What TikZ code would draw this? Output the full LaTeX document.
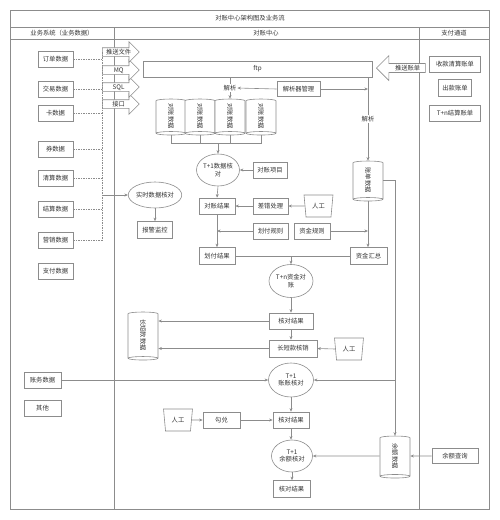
\documentclass[tikz,border=0pt]{standalone}
\usepackage{fontspec}
\setmainfont{Noto Sans CJK SC}
\usetikzlibrary{shapes.geometric, shapes.arrows, arrows.meta}

\definecolor{edgegray}{HTML}{8C8C8C}
\definecolor{textgray}{HTML}{333333}

\begin{document}
\begin{tikzpicture}[x=1pt, y=-1pt,
	every node/.style={font=\fontsize{6.3}{7.6}\selectfont, text=textgray},
	line/.style={draw=edgegray, line width=0.6pt},
	arr/.style={line, -{Stealth[length=3.6pt, width=3pt]}},
	box/.style={draw=edgegray, fill=white, line width=0.6pt, minimum height=16, inner sep=1pt},
	oval/.style={ellipse, draw=edgegray, fill=white, line width=0.6pt, inner sep=0pt, align=center},
	db/.style={cylinder, rotate=-90, draw=edgegray, fill=white, line width=0.6pt, minimum width=30, aspect=0.6, inner sep=0pt},
	manual/.style={trapezium, shape border rotate=180, trapezium left angle=80, trapezium right angle=80, trapezium stretches=true, draw=edgegray, fill=white, line width=0.6pt, minimum width=29, minimum height=22, inner sep=0pt},
	feed/.style={single arrow, draw=edgegray, fill=white, line width=0.6pt, single arrow head extend=6pt, inner xsep=1pt, inner ysep=0.6pt, text height=5.6pt, text depth=1.2pt, minimum height=37, anchor=tail},
	lbl/.style={fill=white, inner sep=0.8pt}
]
	\useasboundingbox (0,0) rectangle (500,520);

	% Frame and lanes
	\draw[line] (10,10) rectangle (489,509);
	\draw[line] (10,27) -- (489,27);
	\draw[line] (10,39) -- (489,39);
	\draw[line] (114,27) -- (114,509);
	\draw[line] (419,27) -- (419,509);

	\node (title) at (250,18.5) {对账中心架构图及业务流};
	\node (lanebiz) at (62,33) {业务系统（业务数据）};
	\node (lanectr) at (266,33) {对账中心};
	\node (lanepay) at (454,33) {支付通道};

	% Business data
	\node[box, minimum width=35] (ord) at (55.5,59) {订单数据};
	\node[box, minimum width=35] (trd) at (55.5,89) {交易数据};
	\node[box, minimum width=35] (card) at (55.5,113) {卡数据};
	\node[box, minimum width=35] (coup) at (55.5,149) {券数据};
	\node[box, minimum width=35] (clr) at (55.5,178) {清算数据};
	\node[box, minimum width=35] (stl) at (55.5,209) {结算数据};
	\node[box, minimum width=35] (mkt) at (55.5,240) {营销数据};
	\node[box, minimum width=35] (pay) at (55.5,271) {支付数据};
	\node[box, minimum width=37] (acct) at (42.5,380) {账务数据};
	\node[box, minimum width=37] (other) at (42.5,408) {其他};

	% Feeds into the center
	\node[feed] (f4) at (102,104) {接口};
	\node[feed] (f3) at (102,87) {SQL};
	\node[feed] (f2) at (102,70) {MQ};
	\node[feed] (f1) at (102,52) {推送文件};

	\coordinate (busend) at (102,240);
	\draw[line, dash pattern=on 1.5pt off 1pt] (f1.tail) -- (busend);
	\foreach \n in {ord,trd,card,coup,clr,stl,mkt}
		\draw[line, dash pattern=on 1.5pt off 1pt] (\n.east) -- (\n.east -| busend);

	\node[oval, minimum width=50, minimum height=26] (rt) at (155,195) {实时数据核对};
	\node[box, minimum width=35, minimum height=17] (alarm) at (155,230) {报警监控};
	\draw[arr] (rt.west -| busend) -- (rt.west);
	\draw[arr] (rt.south) -- (alarm.north);

	% Payment channel
	\node[box, minimum width=51] (rcv) at (455,64) {收款清算账单};
	\node[box, minimum width=33, minimum height=17] (out) at (455,88) {出款账单};
	\node[box, minimum width=51] (tnb) at (455,113) {T+n结算账单};
	\node[box, minimum width=46, minimum height=15] (yq) at (455,456) {余额查询};
	\node[single arrow, shape border rotate=180, draw=edgegray, fill=white, line width=0.6pt,
		single arrow head extend=8pt, inner xsep=1pt, inner ysep=0.8pt, text height=5.6pt, text depth=1.2pt,
		minimum height=49, anchor=tip] (push) at (376,68) {\hspace{9pt}推送账单};

	% ftp and parsing
	\node[box, minimum width=229, minimum height=16] (ftp) at (257.5,69) {ftp};
	\node[box, minimum width=43, minimum height=15] (mgr) at (298.5,89) {解析器管理};

	\node[db, minimum height=36] (c1) at (171,116) {对账数据};
	\node[db, minimum height=36] (c2) at (200,116) {对账数据};
	\node[db, minimum height=36] (c3) at (230,116) {对账数据};
	\node[db, minimum height=36] (c4) at (261,116) {对账数据};

	\node[db, minimum height=40] (bill) at (368,180) {账单数据};

	\draw[arr] (ftp.south -| c3.center) -- node[lbl] (p1) {解析} (c3.west);
	\draw[arr] (mgr.west) -- (p1.east);
	\draw[arr] (mgr.east) -- (mgr.east -| bill.center);
	\draw[arr] (ftp.south -| bill.center) -- node[lbl, pos=0.5] (p2) {解析} (bill.west);

	% T+1 data check
	\node[oval, minimum width=43, minimum height=32] (t1) at (218,170) {T+1数据核\\对};
	\coordinate (merge) at (218,143);
	\draw[line] (c1.east) -- (c1.east |- merge) -- (c4.east |- merge) -- (c4.east);
	\draw[line] (c2.east) -- (c2.east |- merge);
	\draw[line] (c3.east) -- (c3.east |- merge);
	\draw[arr] (merge) -- (t1.north);

	\node[box, minimum width=34] (item) at (270,170) {对账项目};
	\node[box, minimum width=36] (res) at (217,206) {对账结果};
	\node[box, minimum width=35] (err) at (270.5,206) {差错处理};
	\node[manual] (h1) at (318.5,206) {人工};
	\node[box, minimum width=35] (rule1) at (270.5,231) {划付规则};
	\node[box, minimum width=36] (rule2) at (312,231) {资金规则};
	\node[box, minimum width=36, minimum height=17] (pres) at (217,256) {划付结果};
	\node[box, minimum width=37, minimum height=17] (fsum) at (368.5,256) {资金汇总};

	\draw[arr] (item.west) -- (t1.east);
	\draw[arr] (t1.south) -- (res.north);
	\draw[arr] (err.west) -- (res.east);
	\draw[arr] (h1.west) -- (err.east);
	\draw[arr] (res.south) -- (pres.north);
	\draw[arr] (rule1.west) -- (rule1.west -| res.south);
	\draw[arr] (bill.east) -- (bill.east |- fsum.north);
	\draw[arr] (rule2.east) -- (rule2.east -| bill.east);

	% T+n fund check
	\node[oval, minimum width=44, minimum height=33] (tn) at (291,281) {T+n资金对\\账};
	\node[box, minimum width=44] (chk1) at (291,321) {核对结果};
	\node[box, minimum width=48, minimum height=17] (offs) at (293,348.5) {长短款核销};
	\node[manual] (h2) at (349,349) {人工};
	\node[db, minimum height=48] (lsd) at (143,335) {长短款数据};

	\draw[line] (pres.east) -- (fsum.west);
	\draw[arr] (tn.north |- pres.east) -- (tn.north);
	\draw[arr] (tn.south) -- (chk1.north);
	\draw[arr] (chk1.south) -- (chk1.south |- offs.north);
	\draw[arr] (h2.west) -- (offs.east);
	\draw[arr] (chk1.west) -- (lsd.north |- chk1.west);
	\draw[arr] (offs.west) -- (lsd.north |- offs.west);

	% T+1 account check
	\node[oval, minimum width=45, minimum height=34] (tk) at (291,380) {T+1\\账账核对};
	\node[manual] (h3) at (178,420) {人工};
	\node[box, minimum width=37] (gd) at (221.5,420) {勾兑};
	\node[box, minimum width=36] (chk2) at (291,420) {核对结果};
	\node[db, minimum height=42] (bal) at (395,456) {余额数据};

	\draw[arr] (acct.east) -- (tk.west);
	\draw[arr] (bill.north) -| (bal.west);
	\draw[arr] (bal.west |- tk.east) -- (tk.east);
	\draw[arr] (tk.south) -- (chk2.north);
	\draw[arr] (h3.east) -- (gd.west);
	\draw[arr] (gd.east) -- (chk2.west);

	% T+1 balance check
	\node[oval, minimum width=41, minimum height=32] (ye) at (292,456) {T+1\\余额核对};
	\node[box, minimum width=37, minimum height=17] (chk3) at (291.5,489) {核对结果};

	\draw[arr] (chk2.south) -- (chk2.south |- ye.north);
	\draw[arr] (yq.west) -- (bal.north);
	\draw[arr] (bal.south) -- (ye.east);
	\draw[arr] (ye.south) -- (ye.south |- chk3.north);

\end{tikzpicture}
\end{document}
